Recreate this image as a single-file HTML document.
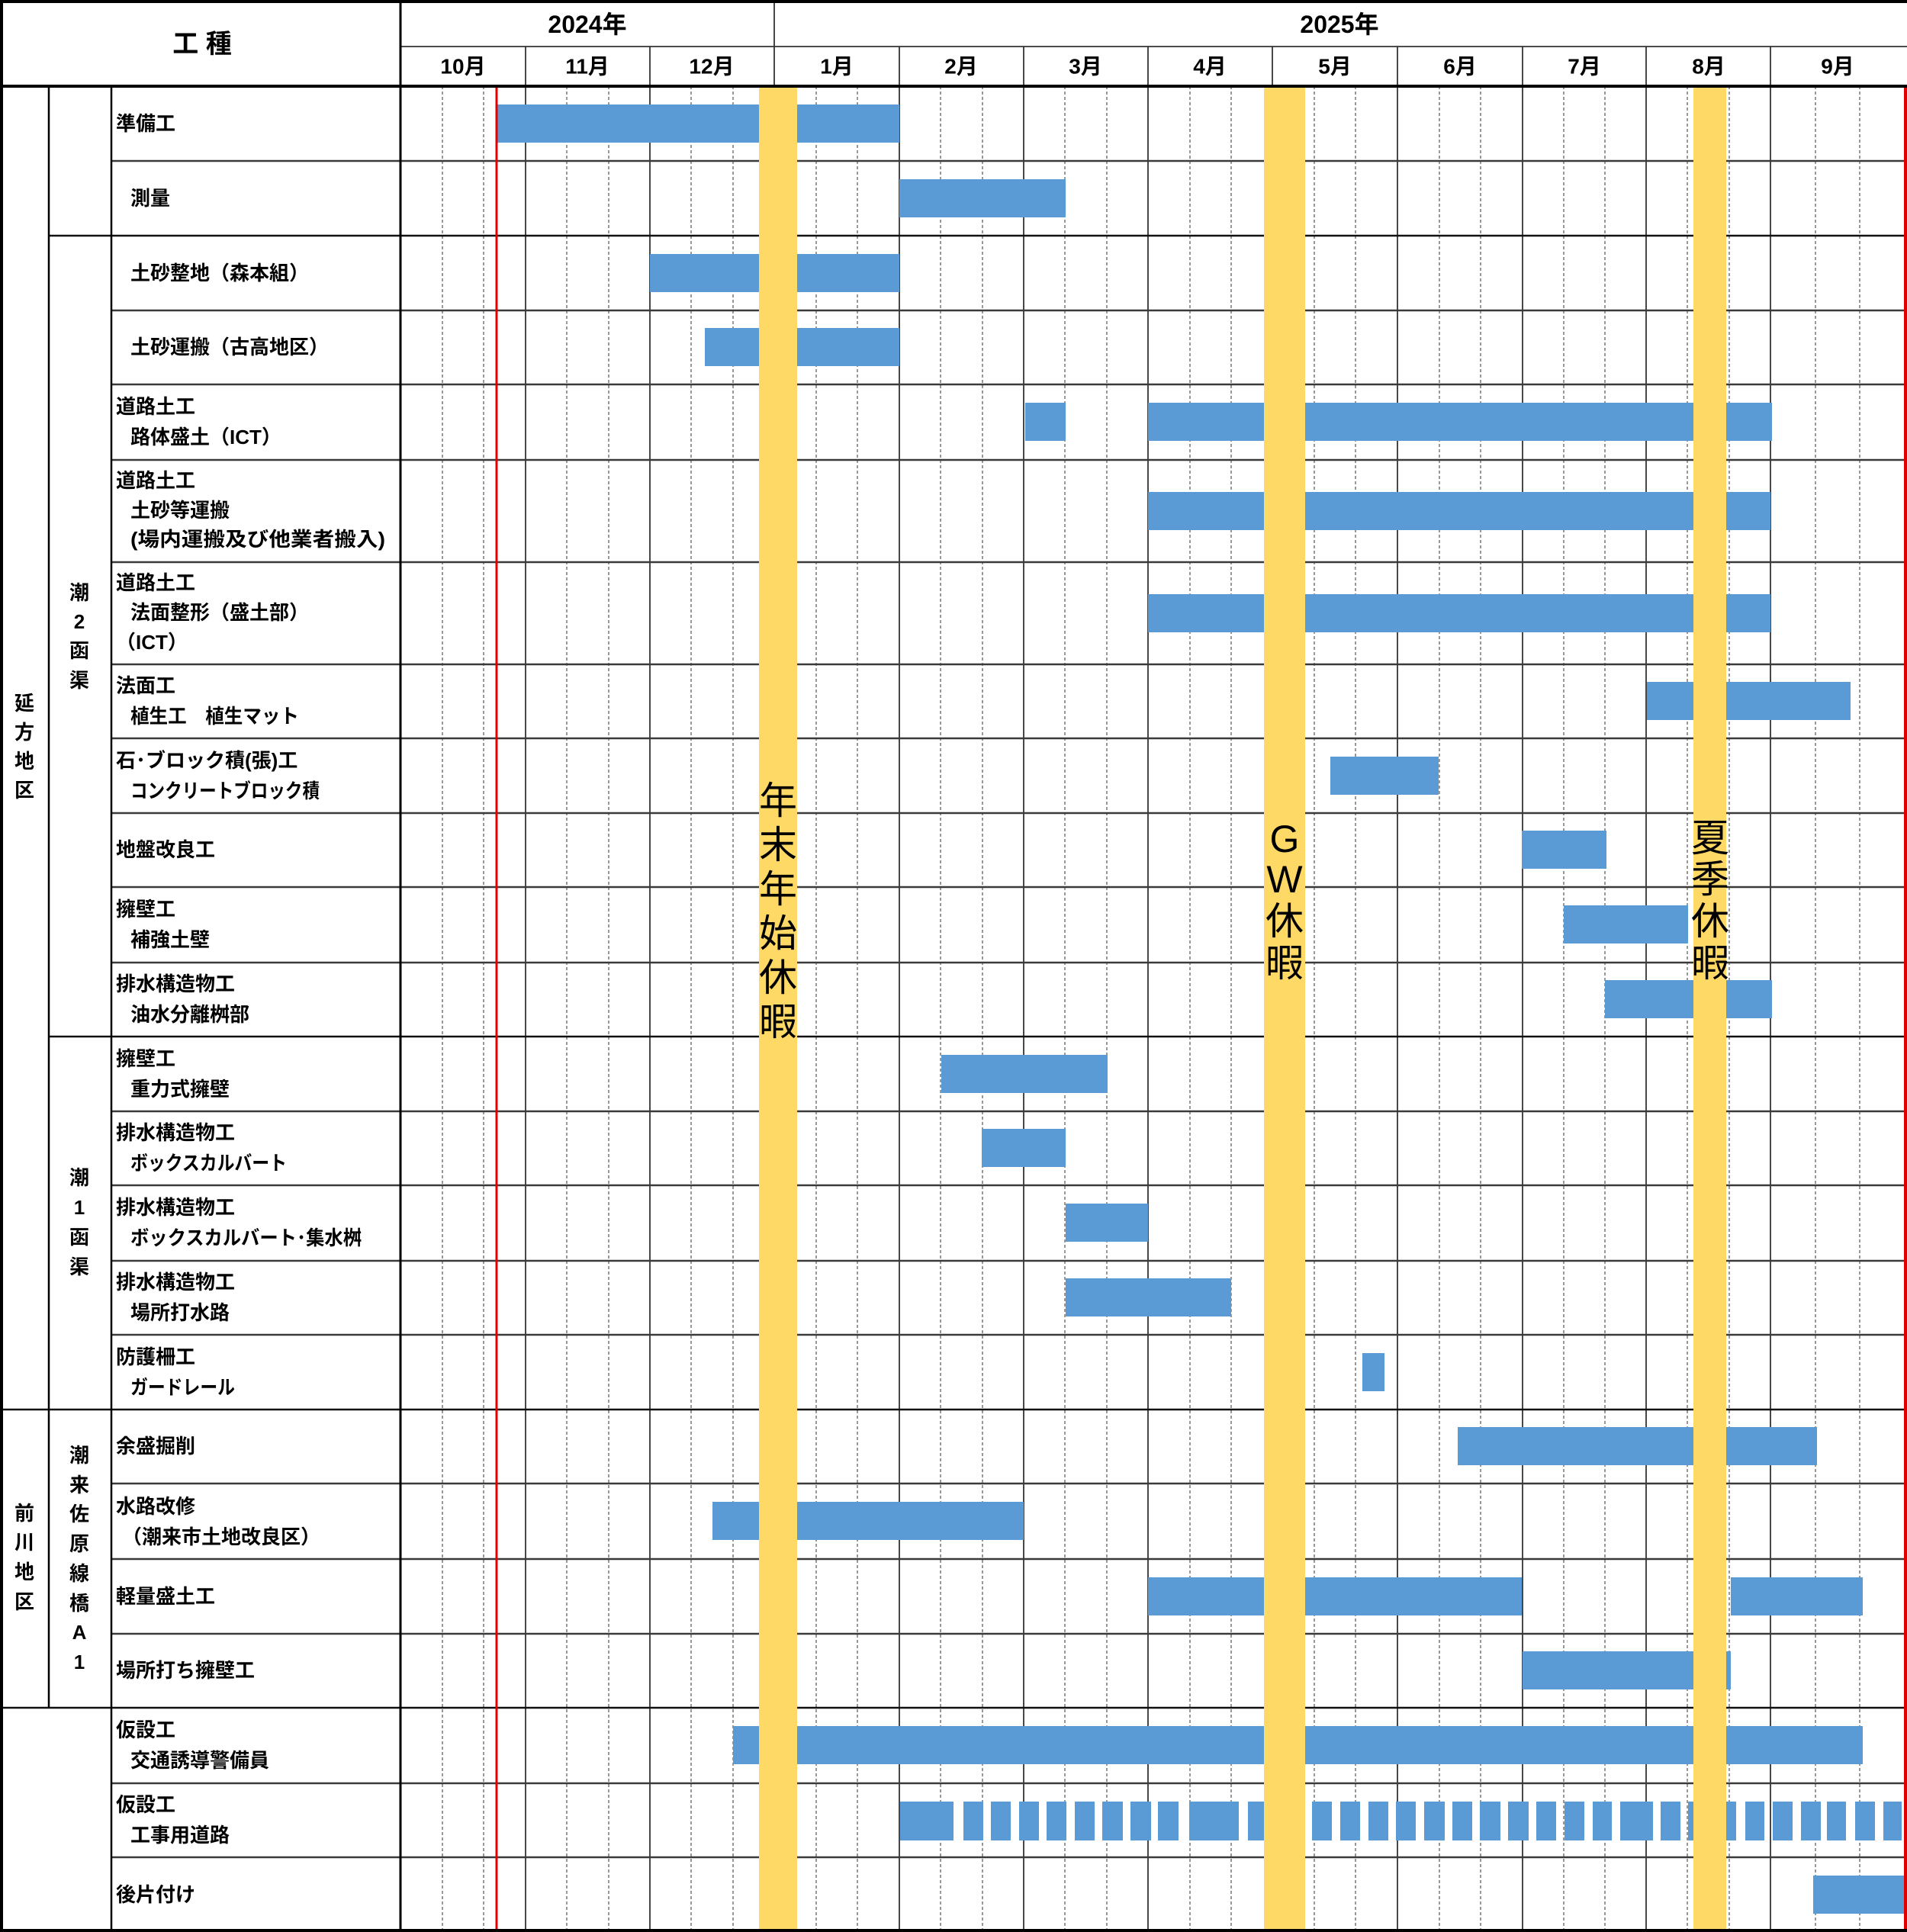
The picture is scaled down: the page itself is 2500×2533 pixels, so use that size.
<!DOCTYPE html>
<html><head><meta charset="utf-8"><style>
html,body{margin:0;padding:0;background:#fff}
svg{display:block}
.l{font-family:"Liberation Sans","Noto Sans CJK JP",sans-serif;font-weight:bold;font-size:26px;fill:#000;dominant-baseline:central}
.h{font-family:"Liberation Sans","Noto Sans CJK JP",sans-serif;font-weight:bold;fill:#000;dominant-baseline:central;text-anchor:middle}
.y{font-family:"Liberation Sans","Noto Sans CJK JP",sans-serif;font-size:50px;fill:#000;dominant-baseline:central;text-anchor:middle}
</style></head><body>
<svg width="2500" height="2533" viewBox="0 0 2500 2533" xmlns="http://www.w3.org/2000/svg">
<rect width="2500" height="2533" fill="#fff"/>
<g stroke="#555" stroke-width="1.2" stroke-dasharray="4,3">
<path d="M580 113V2533M634 113V2533M743 113V2533M798 113V2533M906 113V2533M961 113V2533M1070 113V2533M1124 113V2533M1233 113V2533M1288 113V2533M1396 113V2533M1451 113V2533M1560 113V2533M1614 113V2533M1723 113V2533M1777 113V2533M1887 113V2533M1941 113V2533M2050 113V2533M2104 113V2533M2212 113V2533M2267 113V2533M2380 113V2533M2438 113V2533"/>
</g>
<g stroke="#333" stroke-width="1.8">
<path d="M689 61V2533M852 61V2533M1179 61V2533M1342 61V2533M1505 61V2533M1668 61V2533M1832 61V2533M1996 61V2533M2158 61V2533M2321 61V2533"/>
<path d="M1015 0V2533" />
<path d="M525 61H2500"/>
</g>
<g stroke="#3a3a3a" stroke-width="2.5">
<path d="M146 211H2497M146 407H2497M146 504H2497M146 603H2497M146 737H2497M146 871H2497M146 968H2497M146 1066H2497M146 1163H2497M146 1262H2497M146 1457H2497M146 1554H2497M146 1653H2497M146 1750H2497M146 1945H2497M146 2044H2497M146 2142H2497M146 2338H2497M146 2435H2497"/>
</g>
<g stroke="#111" stroke-width="2.5">
<path d="M64 309H2497M64 1359H2497M0 1848H2497M0 2239H2497"/>
</g>
<g fill="#5B9BD5">
<rect x="651" y="137" width="528" height="50"/>
<rect x="1179" y="235" width="218" height="50"/>
<rect x="852" y="333" width="327" height="50"/>
<rect x="924" y="430" width="255" height="50"/>
<rect x="1344" y="528" width="53" height="50"/>
<rect x="1505" y="528" width="818" height="50"/>
<rect x="1505" y="645" width="816" height="50"/>
<rect x="1505" y="779" width="816" height="50"/>
<rect x="2159" y="894" width="267" height="50"/>
<rect x="1744" y="992" width="142" height="50"/>
<rect x="1995" y="1089" width="111" height="50"/>
<rect x="2050" y="1187" width="163" height="50"/>
<rect x="2104" y="1285" width="219" height="50"/>
<rect x="1234" y="1383" width="218" height="50"/>
<rect x="1287" y="1480" width="110" height="50"/>
<rect x="1397" y="1578" width="108" height="50"/>
<rect x="1397" y="1676" width="217" height="50"/>
<rect x="1786" y="1774" width="29" height="50"/>
<rect x="1911" y="1871" width="471" height="50"/>
<rect x="934" y="1969" width="408" height="50"/>
<rect x="1505" y="2068" width="490" height="50"/>
<rect x="2269" y="2068" width="173" height="50"/>
<rect x="1996" y="2165" width="273" height="50"/>
<rect x="961" y="2263" width="1481" height="50"/>
<rect x="2377" y="2459" width="123" height="50"/>
</g>
<g fill="#5B9BD5">
<rect x="1180" y="2362" width="70" height="51"/><rect x="1263" y="2362" width="26" height="51"/><rect x="1299" y="2362" width="26" height="51"/><rect x="1336" y="2362" width="26" height="51"/><rect x="1372" y="2362" width="26" height="51"/><rect x="1409" y="2362" width="26" height="51"/><rect x="1445" y="2362" width="27" height="51"/><rect x="1482" y="2362" width="27" height="51"/><rect x="1518" y="2362" width="27" height="51"/><rect x="1559" y="2362" width="65" height="51"/><rect x="1636" y="2362" width="22" height="51"/><rect x="1720" y="2362" width="26" height="51"/><rect x="1757" y="2362" width="26" height="51"/><rect x="1794" y="2362" width="26" height="51"/><rect x="1830" y="2362" width="26" height="51"/><rect x="1867" y="2362" width="27" height="51"/><rect x="1904" y="2362" width="26" height="51"/><rect x="1940" y="2362" width="27" height="51"/><rect x="1977" y="2362" width="27" height="51"/><rect x="2014" y="2362" width="26" height="51"/><rect x="2051" y="2362" width="26" height="51"/><rect x="2088" y="2362" width="25" height="51"/><rect x="2124" y="2362" width="43" height="51"/><rect x="2177" y="2362" width="26" height="51"/><rect x="2213" y="2362" width="9" height="51"/><rect x="2262" y="2362" width="14" height="51"/><rect x="2288" y="2362" width="25" height="51"/><rect x="2324" y="2362" width="26" height="51"/><rect x="2361" y="2362" width="26" height="51"/><rect x="2395" y="2362" width="25" height="51"/><rect x="2432" y="2362" width="26" height="51"/><rect x="2469" y="2362" width="24" height="51"/>
</g>
<g fill="#FFD966">
<rect x="995" y="114" width="50" height="2419"/>
<rect x="1657" y="114" width="54" height="2419"/>
<rect x="2220" y="114" width="43" height="2419"/>
</g>
<path d="M651 113V2533" stroke="#E00000" stroke-width="3"/>
<path d="M2498 113V2533" stroke="#E00000" stroke-width="4"/>
<text class="y" x="1020" y="1050">年</text><text class="y" x="1020" y="1108">末</text><text class="y" x="1020" y="1166">年</text><text class="y" x="1020" y="1224">始</text><text class="y" x="1020" y="1282">休</text><text class="y" x="1020" y="1340">暇</text>
<text class="y" x="1684" y="1100">G</text><text class="y" x="1684" y="1153">W</text><text class="y" x="1684" y="1208">休</text><text class="y" x="1684" y="1263">暇</text>
<text class="y" x="2242" y="1099">夏</text><text class="y" x="2242" y="1153">季</text><text class="y" x="2242" y="1208">休</text><text class="y" x="2242" y="1263">暇</text>
<g stroke="#000">
<path d="M0 2H2500" stroke-width="4"/>
<path d="M2 0V2533" stroke-width="4"/>
<path d="M0 2531H2500" stroke-width="4"/>
<path d="M0 113H2500" stroke-width="4"/>
<path d="M525 0V2533" stroke-width="3"/>
<path d="M64 113V2239" stroke-width="2.5"/>
<path d="M146 113V2533" stroke-width="2.5"/>
</g>
<text class="h" x="265" y="58" font-size="34">工 種</text>
<text class="h" x="770" y="32" font-size="32">2024年</text>
<text class="h" x="1756" y="32" font-size="32">2025年</text>
<text class="h" x="607" y="87" font-size="28">10月</text>
<text class="h" x="770" y="87" font-size="28">11月</text>
<text class="h" x="933" y="87" font-size="28">12月</text>
<text class="h" x="1097" y="87" font-size="28">1月</text>
<text class="h" x="1260" y="87" font-size="28">2月</text>
<text class="h" x="1423" y="87" font-size="28">3月</text>
<text class="h" x="1586" y="87" font-size="28">4月</text>
<text class="h" x="1750" y="87" font-size="28">5月</text>
<text class="h" x="1914" y="87" font-size="28">6月</text>
<text class="h" x="2077" y="87" font-size="28">7月</text>
<text class="h" x="2240" y="87" font-size="28">8月</text>
<text class="h" x="2409" y="87" font-size="28">9月</text>
<g>
<text class="h" font-size="26" x="32" y="922">延</text><text class="h" font-size="26" x="32" y="960">方</text><text class="h" font-size="26" x="32" y="998">地</text><text class="h" font-size="26" x="32" y="1036">区</text>
<text class="h" font-size="26" x="104" y="777">潮</text><text class="h" font-size="26" x="104" y="815">2</text><text class="h" font-size="26" x="104" y="853">函</text><text class="h" font-size="26" x="104" y="892">渠</text>
<text class="h" font-size="26" x="104" y="1544">潮</text><text class="h" font-size="26" x="104" y="1583">1</text><text class="h" font-size="26" x="104" y="1622">函</text><text class="h" font-size="26" x="104" y="1661">渠</text>
<text class="h" font-size="26" x="32" y="1984">前</text><text class="h" font-size="26" x="32" y="2022">川</text><text class="h" font-size="26" x="32" y="2061">地</text><text class="h" font-size="26" x="32" y="2100">区</text>
<text class="h" font-size="26" x="104" y="1908">潮</text><text class="h" font-size="26" x="104" y="1947">来</text><text class="h" font-size="26" x="104" y="1985">佐</text><text class="h" font-size="26" x="104" y="2024">原</text><text class="h" font-size="26" x="104" y="2063">線</text><text class="h" font-size="26" x="104" y="2102">橋</text><text class="h" font-size="26" x="104" y="2140">A</text><text class="h" font-size="26" x="104" y="2179">1</text>
</g>
<g>
<text class="l" x="152" y="162">準備工</text>
<text class="l" x="171" y="260">測量</text>
<text class="l" x="171" y="358">土砂整地（森本組）</text>
<text class="l" x="171" y="455">土砂運搬（古高地区）</text>
<text class="l" x="152" y="533">道路土工</text><text class="l" x="171" y="573">路体盛土（ICT）</text>
<text class="l" x="152" y="630">道路土工</text><text class="l" x="171" y="669">土砂等運搬</text><text class="l" x="171" y="707" textLength="334" lengthAdjust="spacingAndGlyphs">(場内運搬及び他業者搬入)</text>
<text class="l" x="152" y="764">道路土工</text><text class="l" x="171" y="803">法面整形（盛土部）</text><text class="l" x="152" y="842">（ICT）</text>
<text class="l" x="152" y="899">法面工</text><text class="l" x="171" y="939" textLength="221" lengthAdjust="spacingAndGlyphs">植生工　植生マット</text>
<text class="l" x="152" y="997">石･ブロック積(張)工</text><text class="l" x="171" y="1037" textLength="248" lengthAdjust="spacingAndGlyphs">コンクリートブロック積</text>
<text class="l" x="152" y="1114">地盤改良工</text>
<text class="l" x="152" y="1192">擁壁工</text><text class="l" x="171" y="1232">補強土壁</text>
<text class="l" x="152" y="1290">排水構造物工</text><text class="l" x="171" y="1330">油水分離桝部</text>
<text class="l" x="152" y="1388">擁壁工</text><text class="l" x="171" y="1428">重力式擁壁</text>
<text class="l" x="152" y="1485">排水構造物工</text><text class="l" x="171" y="1525" textLength="205" lengthAdjust="spacingAndGlyphs">ボックスカルバート</text>
<text class="l" x="152" y="1583">排水構造物工</text><text class="l" x="171" y="1623" textLength="303" lengthAdjust="spacingAndGlyphs">ボックスカルバート･集水桝</text>
<text class="l" x="152" y="1681">排水構造物工</text><text class="l" x="171" y="1721">場所打水路</text>
<text class="l" x="152" y="1779">防護柵工</text><text class="l" x="171" y="1819" textLength="137" lengthAdjust="spacingAndGlyphs">ガードレール</text>
<text class="l" x="152" y="1896">余盛掘削</text>
<text class="l" x="152" y="1975">水路改修</text><text class="l" x="160" y="2015">（潮来市土地改良区）</text>
<text class="l" x="152" y="2093">軽量盛土工</text>
<text class="l" x="152" y="2190">場所打ち擁壁工</text>
<text class="l" x="152" y="2268">仮設工</text><text class="l" x="171" y="2308">交通誘導警備員</text>
<text class="l" x="152" y="2366">仮設工</text><text class="l" x="171" y="2406">工事用道路</text>
<text class="l" x="152" y="2484">後片付け</text>
</g>
</svg>
</body></html>
